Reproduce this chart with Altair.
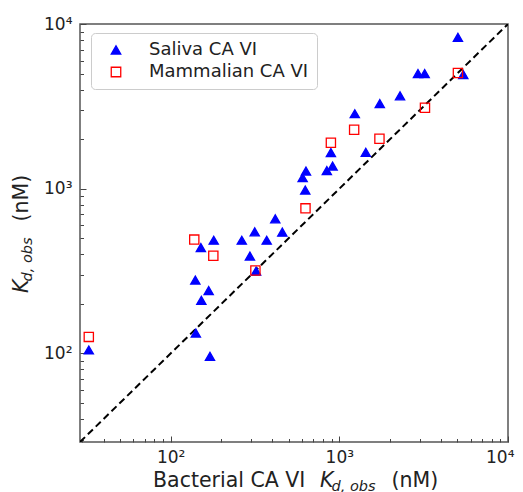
import altair as alt
import pandas as pd

# ---- data ----
series_names = ["Saliva CA VI", "Mammalian CA VI"]
saliva_x = [32.7, 141, 171, 140, 168, 152, 151, 180, 264, 315, 371, 417, 459, 295, 321,
            628, 634, 606, 891, 912, 843, 1435, 1235, 1737, 2290, 2926, 3206, 5047, 5430]
saliva_y = [105, 133, 96, 279, 241, 210, 439, 487, 487, 547, 487, 656, 545, 390, 316,
            982, 1279, 1167, 1658, 1372, 1288, 1665, 2853, 3284, 3664, 5005, 5005, 8296, 4932]
mammal_x = [32.7, 138, 179, 318, 630, 891, 1224, 1729, 3219, 5047]
mammal_y = [126, 491, 392, 319, 760, 1900, 2280, 2010, 3104, 5047]
diag_vals = [29, 10000]
major_ticks = [100, 1000, 10000]
minor_ticks = [30, 40, 50, 60, 70, 80, 90, 200, 300, 400, 500, 600, 700, 800, 900,
               2000, 3000, 4000, 5000, 6000, 7000, 8000, 9000]
x_title_parts = ["Bacterial CA VI", "K", "d, obs", "(nM)"]
y_title_parts = ["K", "d, obs", "(nM)"]

df = pd.DataFrame({
    "x": saliva_x + mammal_x,
    "y": saliva_y + mammal_y,
    "series": [series_names[0]] * len(saliva_x) + [series_names[1]] * len(mammal_x),
})
diag_df = pd.DataFrame({"v": diag_vals, "w": diag_vals})

FONT = "DejaVu Sans"
xscale = alt.Scale(type="log", domain=[29, 10000], nice=False)
yscale = alt.Scale(type="log", domain=[29, 10000], nice=False)

label_expr = "datum.value < 500 ? '10²' : (datum.value < 5000 ? '10³' : '10⁴')"
TICK_COLOR = "#444444"


def tick_axis(orient, vals, size):
    # inward ticks: axis line moved inside the frame by its own tick length
    return alt.Axis(orient=orient, values=vals, tickSize=size, offset=-size,
                    labels=False, domain=False, grid=False, title=None,
                    tickColor=TICK_COLOR, tickWidth=1)


def label_axis(orient, pad, flush):
    extra = {"labelFlush": True, "labelFlushOffset": 6} if flush else {"labelFlush": False}
    return alt.Axis(orient=orient, values=major_ticks, ticks=False,
                    labelExpr=label_expr, labelPadding=pad,
                    labelFont=FONT, labelFontSize=17, labelColor="#222222",
                    domain=False, grid=False, title=None, labelOverlap=False, **extra)


diag = alt.Chart(diag_df).mark_line(
    color="black", strokeDash=[7, 4], strokeWidth=2, clip=True
).encode(
    x=alt.X("v:Q", scale=xscale, axis=tick_axis("bottom", major_ticks, 6)),
    y=alt.Y("w:Q", scale=yscale, axis=tick_axis("left", major_ticks, 6)),
)

labels_layer = alt.Chart(diag_df).mark_line(opacity=0).encode(
    x=alt.X("v:Q", scale=xscale, axis=label_axis("bottom", 7, True)),
    y=alt.Y("w:Q", scale=yscale, axis=label_axis("left", 8, False)),
)

legend = alt.Legend(
    title=None, orient="none", legendX=11, legendY=9, padding=8, rowPadding=4,
    labelFont=FONT, labelFontSize=18, labelColor="#222222", symbolSize=90,
    symbolStrokeWidth=1.3, symbolOffset=8, labelOffset=24,
    strokeColor="#cccccc", fillColor="white", cornerRadius=4, symbolOpacity=1,
)

points = alt.Chart(df).mark_point(filled=False, opacity=1, strokeWidth=1.3, size=85).encode(
    x=alt.X("x:Q", scale=xscale, axis=tick_axis("bottom", minor_ticks, 3.5)),
    y=alt.Y("y:Q", scale=yscale, axis=tick_axis("left", minor_ticks, 3.5)),
    shape=alt.Shape("series:N", scale=alt.Scale(domain=series_names, range=["triangle-up", "square"]), legend=legend),
    color=alt.Color("series:N", scale=alt.Scale(domain=series_names, range=["#0000ff", "#ff0000"]), legend=legend),
    fill=alt.Fill("series:N", scale=alt.Scale(domain=series_names, range=["#0000ff", "transparent"]), legend=legend),
)


def txt(text, x, y, size, style="normal", angle=0):
    return alt.Chart(pd.DataFrame({"t": [text]})).mark_text(
        align="left", baseline="alphabetic", font=FONT, fontSize=size,
        fontStyle=style, angle=angle, color="#222222"
    ).encode(x=alt.value(x), y=alt.value(y), text="t:N")


texts = [
    txt(x_title_parts[0], 73, 462.5, 20.5),
    txt(x_title_parts[1], 240, 462.5, 20.5, "italic"),
    txt(x_title_parts[2], 251.5, 466.5, 14.5, "italic"),
    txt(x_title_parts[3], 311.5, 462.5, 20.5),
    txt(y_title_parts[0], -52.5, 269, 20.5, "italic", 270),
    txt(y_title_parts[1], -48.5, 257.5, 14.5, "italic", 270),
    txt(y_title_parts[2], -52.5, 197.5, 20.5, "normal", 270),
]

chart = alt.layer(diag, labels_layer, points, *texts).resolve_axis(
    x="independent", y="independent"
).properties(
    width=428, height=418,
    padding={"left": 72, "top": 16, "right": 7, "bottom": 50},
    autosize=alt.AutoSizeParams(type="none"),
).configure_view(stroke="#555555", strokeWidth=1.5)

chart.save("out.html", embed_options={"renderer": "svg", "actions": False})
